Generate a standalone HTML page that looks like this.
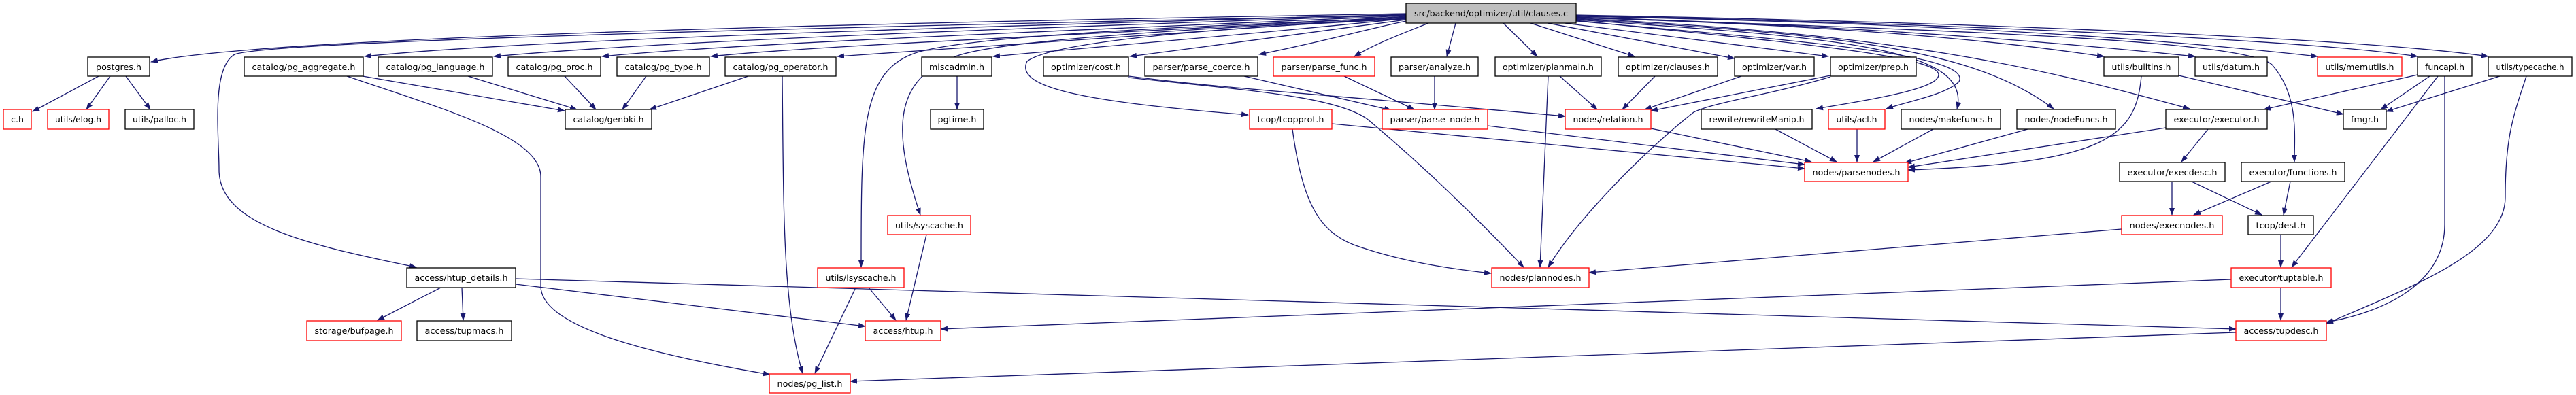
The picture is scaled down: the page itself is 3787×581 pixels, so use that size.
<!DOCTYPE html>
<html><head><meta charset="utf-8"><style>
html,body{margin:0;padding:0;background:#fff;}
svg{display:block;}
text{font-family:"DejaVu Sans","Liberation Sans",sans-serif;font-size:12.5px;fill:#000;}
.e{fill:none;stroke:#191970;stroke-width:1.3;marker-end:url(#a);}
.n{fill:#fff;stroke:#000;stroke-width:1.3;}
.r{fill:#fff;stroke:#ff0000;stroke-width:1.3;}
</style></head><body>
<svg width="3787" height="581" viewBox="0 0 3787 581" xmlns="http://www.w3.org/2000/svg">
<defs><marker id="a" markerWidth="11" markerHeight="8" refX="10" refY="4" orient="auto" markerUnits="userSpaceOnUse"><path d="M0,0L11,4L0,8z" fill="#191970"/></marker></defs>
<g>
<!-- title edges left -->
<path class="e" d="M2067,20 C1500,30 400,50 222,91"/>
<path class="e" d="M2067,21 C1600,35 800,55 536,83"/>
<path class="e" d="M2067,22 C1600,38 1000,58 726,83"/>
<path class="e" d="M2067,23 C1700,40 1100,62 885,83"/>
<path class="e" d="M2067,24 C1800,42 1200,66 1045,83"/>
<path class="e" d="M2067,25 C1800,45 1400,70 1231,83"/>
<path class="e" d="M2067,27 C1900,45 1600,70 1460,83"/>
<path class="e" d="M2067,29 C1950,45 1800,65 1661,83"/>
<path class="e" d="M2067,31 C2000,45 1950,60 1851,80"/>
<path class="e" d="M2100,34 C2060,50 2020,65 1991,83"/>
<path class="e" d="M2140,34 L2127,83"/>
<path class="e" d="M2210,34 L2260,83"/>
<path class="e" d="M2250,34 L2403,83"/>
<path class="e" d="M2275,34 L2550,86"/>
<path class="e" d="M2300,34 L2688,83"/>
<path class="e" d="M2067,22 C1200,40 400,60 345,80 C310,100 322,200 322,250 C322,330 450,360 612,393"/>
<path class="e" d="M2067,28 C1800,40 1550,60 1510,90 C1490,130 1600,150 1835,169"/>
<path class="e" d="M2067,26 C1700,40 1400,55 1340,80 C1265,110 1266,200 1266,393"/>
<path class="e" d="M2067,27 C1750,42 1450,60 1400,85 C1310,120 1314,200 1353,316"/>
<!-- title edges right -->
<path class="e" d="M2317,30 C2600,60 2850,80 2850,110 C2850,130 2760,145 2670,160"/>
<path class="e" d="M2317,31 C2650,60 2900,80 2880,120 C2860,140 2800,150 2773,160"/>
<path class="e" d="M2317,29 C2700,55 2900,70 2877,160"/>
<path class="e" d="M2317,28 C2700,50 2900,70 3019,160"/>
<path class="e" d="M2317,27 C2800,50 3000,100 3219,160"/>
<path class="e" d="M2317,26 C2800,40 3000,70 3093,83"/>
<path class="e" d="M2317,25 C2800,40 3100,70 3227,83"/>
<path class="e" d="M2317,24 C2900,35 3200,60 3407,83"/>
<path class="e" d="M2317,23 C2900,35 3400,60 3554,83"/>
<path class="e" d="M2317,22 C3000,35 3500,60 3658,83"/>
<path class="e" d="M2317,26 C2900,45 3300,60 3340,95 C3380,140 3373,200 3373,238"/>
<!-- other edges -->
<path class="e" d="M145,112 L48,164"/>
<path class="e" d="M162,112 L127,161"/>
<path class="e" d="M185,112 L221,161"/>
<path class="e" d="M533,112 L830,163"/>
<path class="e" d="M510,112 C650,160 795,200 795,260 L795,421 C795,480 950,520 1132,551"/>
<path class="e" d="M688,112 L848,161"/>
<path class="e" d="M830,112 L876,161"/>
<path class="e" d="M950,112 L915,161"/>
<path class="e" d="M1100,112 L955,161"/>
<path class="e" d="M1150,112 C1152,300 1150,450 1180,549"/>
<path class="e" d="M1407,112 L1407,161"/>
<path class="e" d="M648,423 L555,471"/>
<path class="e" d="M679,423 L681,471"/>
<path class="e" d="M758,418 L1272,480"/>
<path class="e" d="M758,410 L3287,484"/>
<path class="e" d="M1277,423 L1317,471"/>
<path class="e" d="M1258,423 L1198,549"/>
<path class="e" d="M1362,345 L1332,471"/>
<path class="e" d="M1659,112 C1800,130 1900,135 2301,171"/>
<path class="e" d="M1659,114 C1820,132 1960,140 2010,175 C2100,250 2180,330 2240,393"/>
<path class="e" d="M1900,190 C1915,300 1940,340 1990,360 C2060,385 2130,395 2192,402"/>
<path class="e" d="M1829,112 L2045,162"/>
<path class="e" d="M1976,112 L2079,161"/>
<path class="e" d="M2109,112 L2109,161"/>
<path class="e" d="M2293,112 L2348,161"/>
<path class="e" d="M2276,112 L2264,393"/>
<path class="e" d="M2433,112 L2385,161"/>
<path class="e" d="M2560,112 L2418,161"/>
<path class="e" d="M2691,111 L2427,163"/>
<path class="e" d="M2691,113 C2600,140 2520,150 2490,165 C2420,220 2320,320 2276,393"/>
<path class="e" d="M1958,182 L2653,248"/>
<path class="e" d="M2187,185 L2653,242"/>
<path class="e" d="M2427,189 L2663,238"/>
<path class="e" d="M2610,190 L2700,238"/>
<path class="e" d="M2730,190 L2730,238"/>
<path class="e" d="M2842,190 L2754,238"/>
<path class="e" d="M2981,190 L2800,240"/>
<path class="e" d="M3184,188 L2805,246"/>
<path class="e" d="M3148,112 C3140,200 3100,240 2805,250"/>
<path class="e" d="M3203,111 L3445,168"/>
<path class="e" d="M3246,190 L3207,238"/>
<path class="e" d="M3193,267 L3193,316"/>
<path class="e" d="M3222,267 L3325,316"/>
<path class="e" d="M3339,267 L3225,316"/>
<path class="e" d="M3367,267 L3357,316"/>
<path class="e" d="M3119,337 L2336,401"/>
<path class="e" d="M3353,345 L3353,393"/>
<path class="e" d="M3353,423 L3353,471"/>
<path class="e" d="M3280,411 L1383,484"/>
<path class="e" d="M3287,489 L1250,561"/>
<path class="e" d="M3554,110 L3328,161"/>
<path class="e" d="M3572,112 L3500,161"/>
<path class="e" d="M3584,112 L3369,393"/>
<path class="e" d="M3594,112 L3594,330 C3594,420 3500,460 3420,474"/>
<path class="e" d="M3675,112 L3508,164"/>
<path class="e" d="M3714,112 C3695,170 3683,200 3683,290 C3683,370 3550,420 3420,476"/>
</g>
<g>
<rect x="2067" y="5" width="250" height="29" fill="#bfbfbf" stroke="#000" stroke-width="1.3"/><text x="2192" y="24" text-anchor="middle" textLength="226" lengthAdjust="spacingAndGlyphs">src/backend/optimizer/util/clauses.c</text>
<rect class="n" x="129" y="84" width="91" height="28"/><text x="174.5" y="103" text-anchor="middle" textLength="67" lengthAdjust="spacingAndGlyphs">postgres.h</text>
<rect class="r" x="5" y="161" width="41" height="29"/><text x="25.5" y="180" text-anchor="middle" textLength="19" lengthAdjust="spacingAndGlyphs">c.h</text>
<rect class="r" x="70" y="161" width="90" height="29"/><text x="115" y="180" text-anchor="middle" textLength="68" lengthAdjust="spacingAndGlyphs">utils/elog.h</text>
<rect class="n" x="184" y="161" width="101" height="29"/><text x="234.5" y="180" text-anchor="middle" textLength="79" lengthAdjust="spacingAndGlyphs">utils/palloc.h</text>
<rect class="n" x="359" y="84" width="175" height="28"/><text x="446.5" y="103" text-anchor="middle" textLength="152" lengthAdjust="spacingAndGlyphs">catalog/pg_aggregate.h</text>
<rect class="n" x="556" y="84" width="168" height="28"/><text x="640" y="103" text-anchor="middle" textLength="145" lengthAdjust="spacingAndGlyphs">catalog/pg_language.h</text>
<rect class="n" x="747" y="84" width="136" height="28"/><text x="815" y="103" text-anchor="middle" textLength="113" lengthAdjust="spacingAndGlyphs">catalog/pg_proc.h</text>
<rect class="n" x="907" y="84" width="136" height="28"/><text x="975" y="103" text-anchor="middle" textLength="113" lengthAdjust="spacingAndGlyphs">catalog/pg_type.h</text>
<rect class="n" x="831" y="161" width="127" height="29"/><text x="894.5" y="180" text-anchor="middle" textLength="104" lengthAdjust="spacingAndGlyphs">catalog/genbki.h</text>
<rect class="n" x="1066" y="84" width="163" height="28"/><text x="1147.5" y="103" text-anchor="middle" textLength="140" lengthAdjust="spacingAndGlyphs">catalog/pg_operator.h</text>
<rect class="n" x="1355" y="84" width="103" height="28"/><text x="1406.5" y="103" text-anchor="middle" textLength="81" lengthAdjust="spacingAndGlyphs">miscadmin.h</text>
<rect class="n" x="1368" y="161" width="78" height="29"/><text x="1407" y="180" text-anchor="middle" textLength="57" lengthAdjust="spacingAndGlyphs">pgtime.h</text>
<rect class="n" x="1534" y="84" width="125" height="28"/><text x="1596.5" y="103" text-anchor="middle" textLength="103" lengthAdjust="spacingAndGlyphs">optimizer/cost.h</text>
<rect class="n" x="1683" y="84" width="166" height="28"/><text x="1766" y="103" text-anchor="middle" textLength="143" lengthAdjust="spacingAndGlyphs">parser/parse_coerce.h</text>
<rect class="r" x="1872" y="84" width="149" height="28"/><text x="1946.5" y="103" text-anchor="middle" textLength="126" lengthAdjust="spacingAndGlyphs">parser/parse_func.h</text>
<rect class="r" x="1837" y="161" width="121" height="29"/><text x="1897.5" y="180" text-anchor="middle" textLength="98" lengthAdjust="spacingAndGlyphs">tcop/tcopprot.h</text>
<rect class="r" x="1305" y="317" width="122" height="28"/><text x="1366" y="336" text-anchor="middle" textLength="100" lengthAdjust="spacingAndGlyphs">utils/syscache.h</text>
<rect class="r" x="1202" y="394" width="127" height="29"/><text x="1265.5" y="413" text-anchor="middle" textLength="104" lengthAdjust="spacingAndGlyphs">utils/lsyscache.h</text>
<rect class="r" x="1272" y="472" width="111" height="29"/><text x="1327.5" y="491" text-anchor="middle" textLength="88" lengthAdjust="spacingAndGlyphs">access/htup.h</text>
<rect class="r" x="1131" y="550" width="119" height="28"/><text x="1190.5" y="569" text-anchor="middle" textLength="96" lengthAdjust="spacingAndGlyphs">nodes/pg_list.h</text>
<rect class="n" x="598" y="394" width="160" height="29"/><text x="678" y="413" text-anchor="middle" textLength="137" lengthAdjust="spacingAndGlyphs">access/htup_details.h</text>
<rect class="r" x="451" y="472" width="139" height="29"/><text x="520.5" y="491" text-anchor="middle" textLength="116" lengthAdjust="spacingAndGlyphs">storage/bufpage.h</text>
<rect class="n" x="613" y="472" width="139" height="29"/><text x="682.5" y="491" text-anchor="middle" textLength="116" lengthAdjust="spacingAndGlyphs">access/tupmacs.h</text>
<rect class="n" x="2045" y="84" width="128" height="28"/><text x="2109" y="103" text-anchor="middle" textLength="106" lengthAdjust="spacingAndGlyphs">parser/analyze.h</text>
<rect class="n" x="2198" y="84" width="156" height="28"/><text x="2276" y="103" text-anchor="middle" textLength="134" lengthAdjust="spacingAndGlyphs">optimizer/planmain.h</text>
<rect class="n" x="2379" y="84" width="146" height="28"/><text x="2452" y="103" text-anchor="middle" textLength="124" lengthAdjust="spacingAndGlyphs">optimizer/clauses.h</text>
<rect class="n" x="2550" y="84" width="117" height="28"/><text x="2608.5" y="103" text-anchor="middle" textLength="95" lengthAdjust="spacingAndGlyphs">optimizer/var.h</text>
<rect class="n" x="2691" y="84" width="126" height="28"/><text x="2754" y="103" text-anchor="middle" textLength="104" lengthAdjust="spacingAndGlyphs">optimizer/prep.h</text>
<rect class="r" x="2032" y="161" width="155" height="29"/><text x="2109.5" y="180" text-anchor="middle" textLength="132" lengthAdjust="spacingAndGlyphs">parser/parse_node.h</text>
<rect class="r" x="2301" y="161" width="126" height="29"/><text x="2364" y="180" text-anchor="middle" textLength="103" lengthAdjust="spacingAndGlyphs">nodes/relation.h</text>
<rect class="n" x="2501" y="161" width="163" height="29"/><text x="2582.5" y="180" text-anchor="middle" textLength="140" lengthAdjust="spacingAndGlyphs">rewrite/rewriteManip.h</text>
<rect class="r" x="2688" y="161" width="83" height="29"/><text x="2729.5" y="180" text-anchor="middle" textLength="60" lengthAdjust="spacingAndGlyphs">utils/acl.h</text>
<rect class="n" x="2795" y="161" width="146" height="29"/><text x="2868" y="180" text-anchor="middle" textLength="123" lengthAdjust="spacingAndGlyphs">nodes/makefuncs.h</text>
<rect class="r" x="2653" y="239" width="152" height="28"/><text x="2729" y="258" text-anchor="middle" textLength="129" lengthAdjust="spacingAndGlyphs">nodes/parsenodes.h</text>
<rect class="r" x="2193" y="394" width="143" height="29"/><text x="2264.5" y="413" text-anchor="middle" textLength="120" lengthAdjust="spacingAndGlyphs">nodes/plannodes.h</text>
<rect class="n" x="3093" y="84" width="110" height="28"/><text x="3148" y="103" text-anchor="middle" textLength="87" lengthAdjust="spacingAndGlyphs">utils/builtins.h</text>
<rect class="n" x="3227" y="84" width="106" height="28"/><text x="3280" y="103" text-anchor="middle" textLength="84" lengthAdjust="spacingAndGlyphs">utils/datum.h</text>
<rect class="r" x="3407" y="84" width="124" height="28"/><text x="3469" y="103" text-anchor="middle" textLength="101" lengthAdjust="spacingAndGlyphs">utils/memutils.h</text>
<rect class="n" x="3554" y="84" width="80" height="28"/><text x="3594" y="103" text-anchor="middle" textLength="58" lengthAdjust="spacingAndGlyphs">funcapi.h</text>
<rect class="n" x="3658" y="84" width="123" height="28"/><text x="3719.5" y="103" text-anchor="middle" textLength="100" lengthAdjust="spacingAndGlyphs">utils/typecache.h</text>
<rect class="n" x="2965" y="161" width="145" height="29"/><text x="3037.5" y="180" text-anchor="middle" textLength="122" lengthAdjust="spacingAndGlyphs">nodes/nodeFuncs.h</text>
<rect class="n" x="3184" y="161" width="149" height="29"/><text x="3258.5" y="180" text-anchor="middle" textLength="126" lengthAdjust="spacingAndGlyphs">executor/executor.h</text>
<rect class="n" x="3445" y="161" width="63" height="29"/><text x="3476.5" y="180" text-anchor="middle" textLength="41" lengthAdjust="spacingAndGlyphs">fmgr.h</text>
<rect class="n" x="3116" y="239" width="155" height="28"/><text x="3193.5" y="258" text-anchor="middle" textLength="132" lengthAdjust="spacingAndGlyphs">executor/execdesc.h</text>
<rect class="n" x="3295" y="239" width="152" height="28"/><text x="3371" y="258" text-anchor="middle" textLength="129" lengthAdjust="spacingAndGlyphs">executor/functions.h</text>
<rect class="r" x="3119" y="317" width="148" height="28"/><text x="3193" y="336" text-anchor="middle" textLength="125" lengthAdjust="spacingAndGlyphs">nodes/execnodes.h</text>
<rect class="n" x="3305" y="317" width="96" height="28"/><text x="3353" y="336" text-anchor="middle" textLength="73" lengthAdjust="spacingAndGlyphs">tcop/dest.h</text>
<rect class="r" x="3280" y="394" width="147" height="29"/><text x="3353.5" y="413" text-anchor="middle" textLength="124" lengthAdjust="spacingAndGlyphs">executor/tuptable.h</text>
<rect class="r" x="3287" y="472" width="133" height="29"/><text x="3353.5" y="491" text-anchor="middle" textLength="110" lengthAdjust="spacingAndGlyphs">access/tupdesc.h</text>
</g>
</svg>
</body></html>
